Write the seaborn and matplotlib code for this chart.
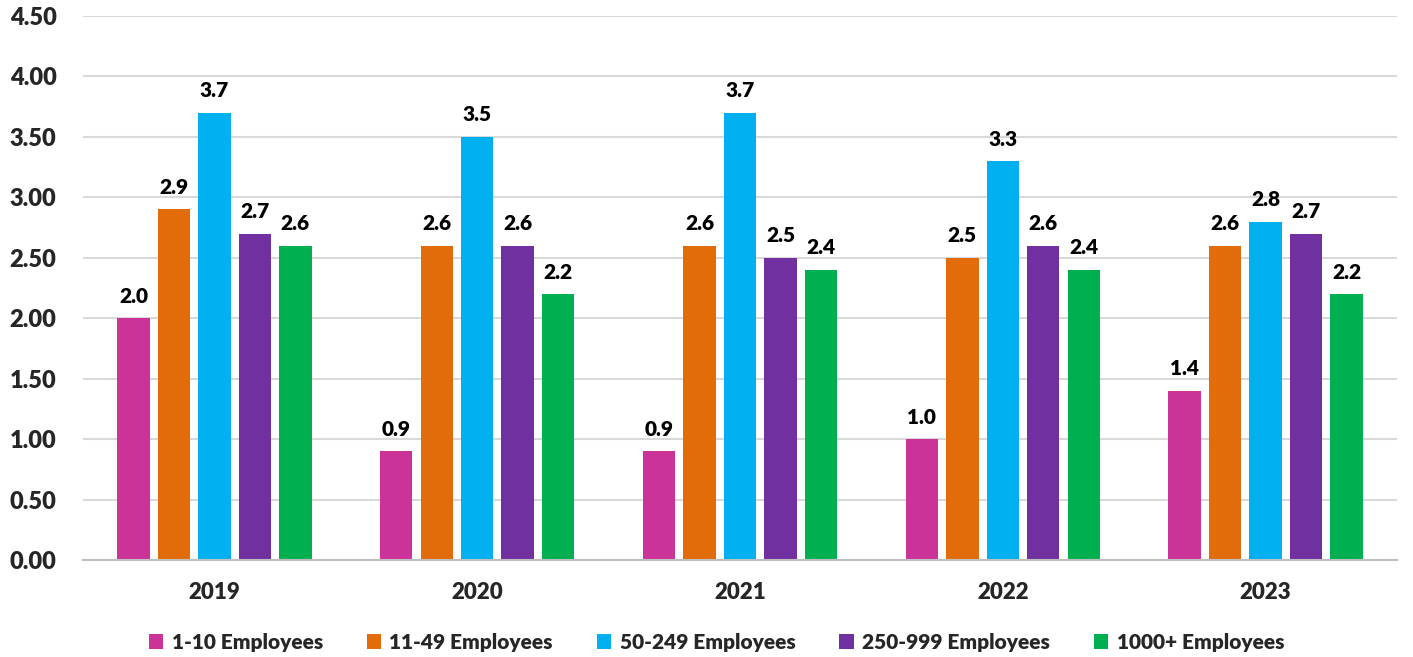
import matplotlib
matplotlib.use("Agg")
import matplotlib.pyplot as plt
import seaborn as sns
import pandas as pd

years = ["2019", "2020", "2021", "2022", "2023"]
series = ["1-10 Employees", "11-49 Employees", "50-249 Employees", "250-999 Employees", "1000+ Employees"]
v_1_10 = [2.0, 0.9, 0.9, 1.0, 1.4]
v_11_49 = [2.9, 2.6, 2.6, 2.5, 2.6]
v_50_249 = [3.7, 3.5, 3.7, 3.3, 2.8]
v_250_999 = [2.7, 2.6, 2.5, 2.6, 2.7]
v_1000 = [2.6, 2.2, 2.4, 2.4, 2.2]
colors = ["#CC3399", "#E36C0A", "#00B0F0", "#7030A0", "#00B050"]
yticks = [0.0, 0.5, 1.0, 1.5, 2.0, 2.5, 3.0, 3.5, 4.0, 4.5]

values = [v_1_10, v_11_49, v_50_249, v_250_999, v_1000]
rows = []
for s, vals in zip(series, values):
    for y, v in zip(years, vals):
        rows.append({"Year": y, "Size": s, "Value": v})
df = pd.DataFrame(rows)

sns.set_theme(style="white")
plt.rcParams["font.family"] = ["Lato", "DejaVu Sans"]
W = "heavy"
plt.rcParams["font.weight"] = W

fig = plt.figure(figsize=(14.13, 6.57), dpi=100)
ax = fig.add_axes([83/1413, 97/657, 1314/1413, 544/657])

sns.barplot(data=df, x="Year", y="Value", hue="Size", order=years, hue_order=series,
            palette=colors, width=0.77, gap=0.2, ax=ax, saturation=1,
            edgecolor="none", linewidth=0)

for c in ax.containers:
    ax.bar_label(c, fmt="%.1f", padding=9, fontsize=15, fontweight=W, color="black")

ax.set_ylim(0, 4.5)
ax.set_xlim(-0.5, 4.5)
ax.set_yticks(yticks)
ax.set_yticklabels([f"{t:.2f}" for t in yticks], fontsize=17, fontweight=W)
ax.set_xticks(range(len(years)))
ax.set_xticklabels(years, fontsize=16, fontweight=W)
ax.tick_params(axis="y", length=0, pad=19)
ax.tick_params(axis="x", length=0, pad=16)
ax.yaxis.grid(True, color="#D9D9D9", linewidth=1.5)
ax.set_axisbelow(True)
for side in ["left", "right", "top"]:
    ax.spines[side].set_visible(False)
ax.spines["bottom"].set_color("#BFBFBF")
ax.spines["bottom"].set_linewidth(1.5)
ax.set_xlabel("")
ax.set_ylabel("")

handles, labels = ax.get_legend_handles_labels()
ax.legend_.remove()
fig.legend(handles, labels, loc="center", bbox_to_anchor=(0.507, 0.022), ncol=5,
           frameon=False, handlelength=0.7, handleheight=0.7,
           handletextpad=0.4, columnspacing=2.1, prop={"weight": W, "size": 15})

fig.savefig("out.png", dpi=100)
